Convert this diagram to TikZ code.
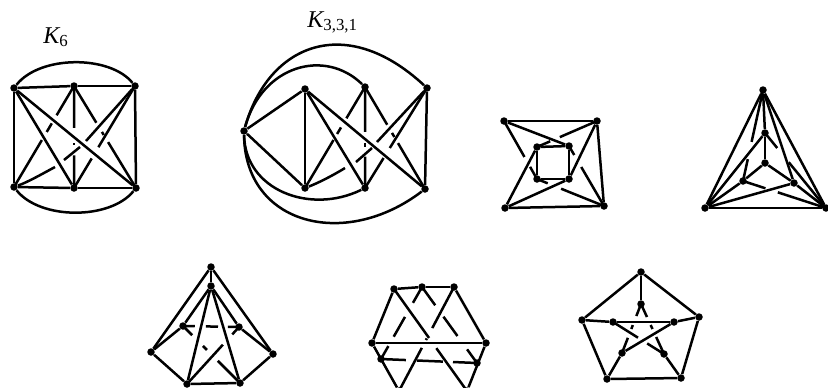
\documentclass[tikz,border=0pt]{standalone}
\usepackage{fontspec}
\setmainfont{Liberation Serif}
\usetikzlibrary{calc}

\tikzset{
  vtx/.style={circle,fill=black,inner sep=0pt,minimum size=0.15cm},
  edge/.style={line width=0.05cm},
  title/.style={font=\fontsize{13.7}{16}\selectfont\itshape,inner sep=0pt,anchor=base west}
}

% edge u--v drawn only on the given from/to stretches
\newcommand{\brokenedge}[3]{%
  \foreach \from/\upto in {#3} {
    \draw[edge] ($(#1)!\from!(#2)$) -- ($(#1)!\upto!(#2)$);
  }%
}

\begin{document}
\begin{tikzpicture}[x=0.02cm,y=-0.02cm,line join=round]
  \path[use as bounding box,clip] (0,0) rectangle (828,387);

  % K6
  \node[title] (ksix) at (43,43) {K\textsubscript{\normalfont 6}};
  \foreach \name/\x/\y in {a1/14/88,a2/74/86,a3/135/86,a4/14/187,a5/74/188,a6/136/188} {
    \node[vtx] (\name) at (\x,\y) {};
  }
  \foreach \u/\v in {a1/a2,a2/a3,a1/a4,a3/a6,a4/a5,a5/a6,a1/a5,a1/a6} {
    \draw[edge] (\u) -- (\v);
  }
  \draw[edge] (a1) .. controls (40,55) and (110,55) .. (a3);
  \draw[edge] (a4) .. controls (40,220) and (110,220) .. (a6);
  \brokenedge{a2}{a5}{0/.41,.56/.58,.68/1}
  \brokenedge{a2}{a4}{0/.29,.37/.455,.535/1}
  \brokenedge{a2}{a6}{0/.36,.45/.48,.55/1}
  \brokenedge{a3}{a5}{0/.6,.71/1}
  \coordinate (a7) at (86,141);
  \coordinate (a8) at (80,147);
  \coordinate (a9) at (64,160);
  \coordinate (a10) at (55,167);
  \draw[edge] (a3) -- (a7);
  \draw[edge] (a8) -- (a9);
  \draw[edge] (a10) .. controls (42,174) and (28,182) .. (a4);

  % K331
  \node[title] (kthree) at (307,27) {K\textsubscript{\normalfont 3,3,1}};
  \foreach \name/\x/\y in {b1/244/131,b2/305/89,b3/365/87,b4/427/88,b5/305/188,b6/365/188,b7/425/189} {
    \node[vtx] (\name) at (\x,\y) {};
  }
  \foreach \u/\v in {b1/b2,b1/b5,b2/b5,b4/b7,b2/b6,b2/b7} {
    \draw[edge] (\u) -- (\v);
  }
  \draw[edge] (b1) .. controls (262,65) and (325,48) .. (b3);
  \draw[edge] (b1) .. controls (268,45) and (345,12) .. (b4);
  \draw[edge] (b1) .. controls (245,190) and (310,215) .. (b6);
  \draw[edge] (b1) .. controls (245,225) and (345,250) .. (b7);
  \brokenedge{b3}{b6}{0/.445,.555/.595,.69/1}
  \brokenedge{b3}{b7}{0/.37,.45/.49,.55/1}
  \brokenedge{b3}{b5}{0/.31,.40/.465,.525/1}
  \brokenedge{b4}{b6}{0/.6,.7/1}
  \coordinate (b8) at (377,142);
  \coordinate (b9) at (372,148);
  \coordinate (b10) at (356,162);
  \coordinate (b11) at (345,168);
  \draw[edge] (b4) -- (b8);
  \draw[edge] (b9) -- (b10);
  \draw[edge] (b11) .. controls (332,176) and (318,183) .. (b5);

  % square
  \foreach \name/\x/\y in {c1/504/121,c2/597/121,c3/505/208,c4/604/206,c5/537/147,c6/569/146,c7/537/179,c8/569/179} {
    \node[vtx] (\name) at (\x,\y) {};
  }
  \foreach \u/\v in {c1/c2,c2/c4,c3/c4,c3/c5,c3/c8,c2/c8,c5/c6,c6/c8,c8/c7,c7/c5,c1/c6} {
    \draw[edge] (\u) -- (\v);
  }
  \brokenedge{c2}{c5}{0/.62,.78/1}
  \brokenedge{c1}{c7}{0/.62,.79/1}
  \brokenedge{c6}{c4}{0/.15,.35/1}
  \brokenedge{c7}{c4}{0/.16,.36/1}

  % triangle
  \foreach \name/\x/\y in {d1/763/90,d2/705/208,d3/826/208,d4/765/133,d5/765/163,d6/743/181,d7/794/183} {
    \node[vtx] (\name) at (\x,\y) {};
  }
  \foreach \u/\v in {d1/d2,d1/d3,d2/d3,d1/d4,d4/d5,d4/d2,d5/d6,d5/d7,d6/d2,d7/d2,d7/d3,d1/d7} {
    \draw[edge] (\u) -- (\v);
  }
  \brokenedge{d1}{d6}{0/.57,.76/1}
  \brokenedge{d4}{d3}{0/.2,.39/1}
  \brokenedge{d6}{d3}{0/.27,.42/1}

  % kite
  \foreach \name/\x/\y in {e1/211/267,e2/211/286,e3/183/326,e4/239/327,e5/151/352,e6/273/354,e7/187/384,e8/240/383} {
    \node[vtx] (\name) at (\x,\y) {};
  }
  \foreach \u/\v in {e1/e5,e1/e6,e1/e2,e2/e3,e2/e4,e2/e7,e2/e8,e3/e5,e4/e6,e5/e7,e6/e8,e7/e8} {
    \draw[edge] (\u) -- (\v);
  }
  \brokenedge{e3}{e4}{0/.21,.41/.625,.80/1}
  \brokenedge{e3}{e8}{0/.16,.35/.42,.61/1}
  \brokenedge{e4}{e7}{0/.13,.31/1}

  % hexagon, cut at the bottom
  \foreach \name/\x/\y in {f1/394/289,f2/422/287,f3/454/287,f4/372/343,f5/486/343,f6/381/359,f7/477/363,f8/399/391,f9/467/391} {
    \node[vtx] (\name) at (\x,\y) {};
  }
  \foreach \u/\v in {f1/f2,f2/f3,f1/f4,f3/f5,f4/f5,f4/f8,f5/f9} {
    \draw[edge] (\u) -- (\v);
  }
  \brokenedge{f2}{f6}{0/.22,.415/.69,.82/1}
  \brokenedge{f2}{f7}{0/.24,.39/.645,.82/1}
  \brokenedge{f1}{f9}{0/.48,.58/1}
  \brokenedge{f3}{f8}{0/.395,.495/.51,.585/1}
  \brokenedge{f6}{f7}{0/.26,.375/.645,.75/1}

  % Petersen
  \foreach \name/\x/\y in {g1/641/272,g2/582/320,g3/699/317,g4/607/379,g5/681/378,g6/641/304,g7/613/322,g8/674/322,g9/622/353,g10/664/354} {
    \node[vtx] (\name) at (\x,\y) {};
  }
  \foreach \u/\v in {g1/g2,g1/g3,g2/g4,g3/g5,g4/g5,g1/g6,g2/g7,g7/g8,g8/g3,g9/g4,g10/g5,g8/g9} {
    \draw[edge] (\u) -- (\v);
  }
  \brokenedge{g6}{g9}{0/.245,.43/.51,.69/1}
  \brokenedge{g6}{g10}{0/.26,.42/.50,.66/1}
  \brokenedge{g7}{g10}{0/.49,.67/1}
\end{tikzpicture}
\end{document}
